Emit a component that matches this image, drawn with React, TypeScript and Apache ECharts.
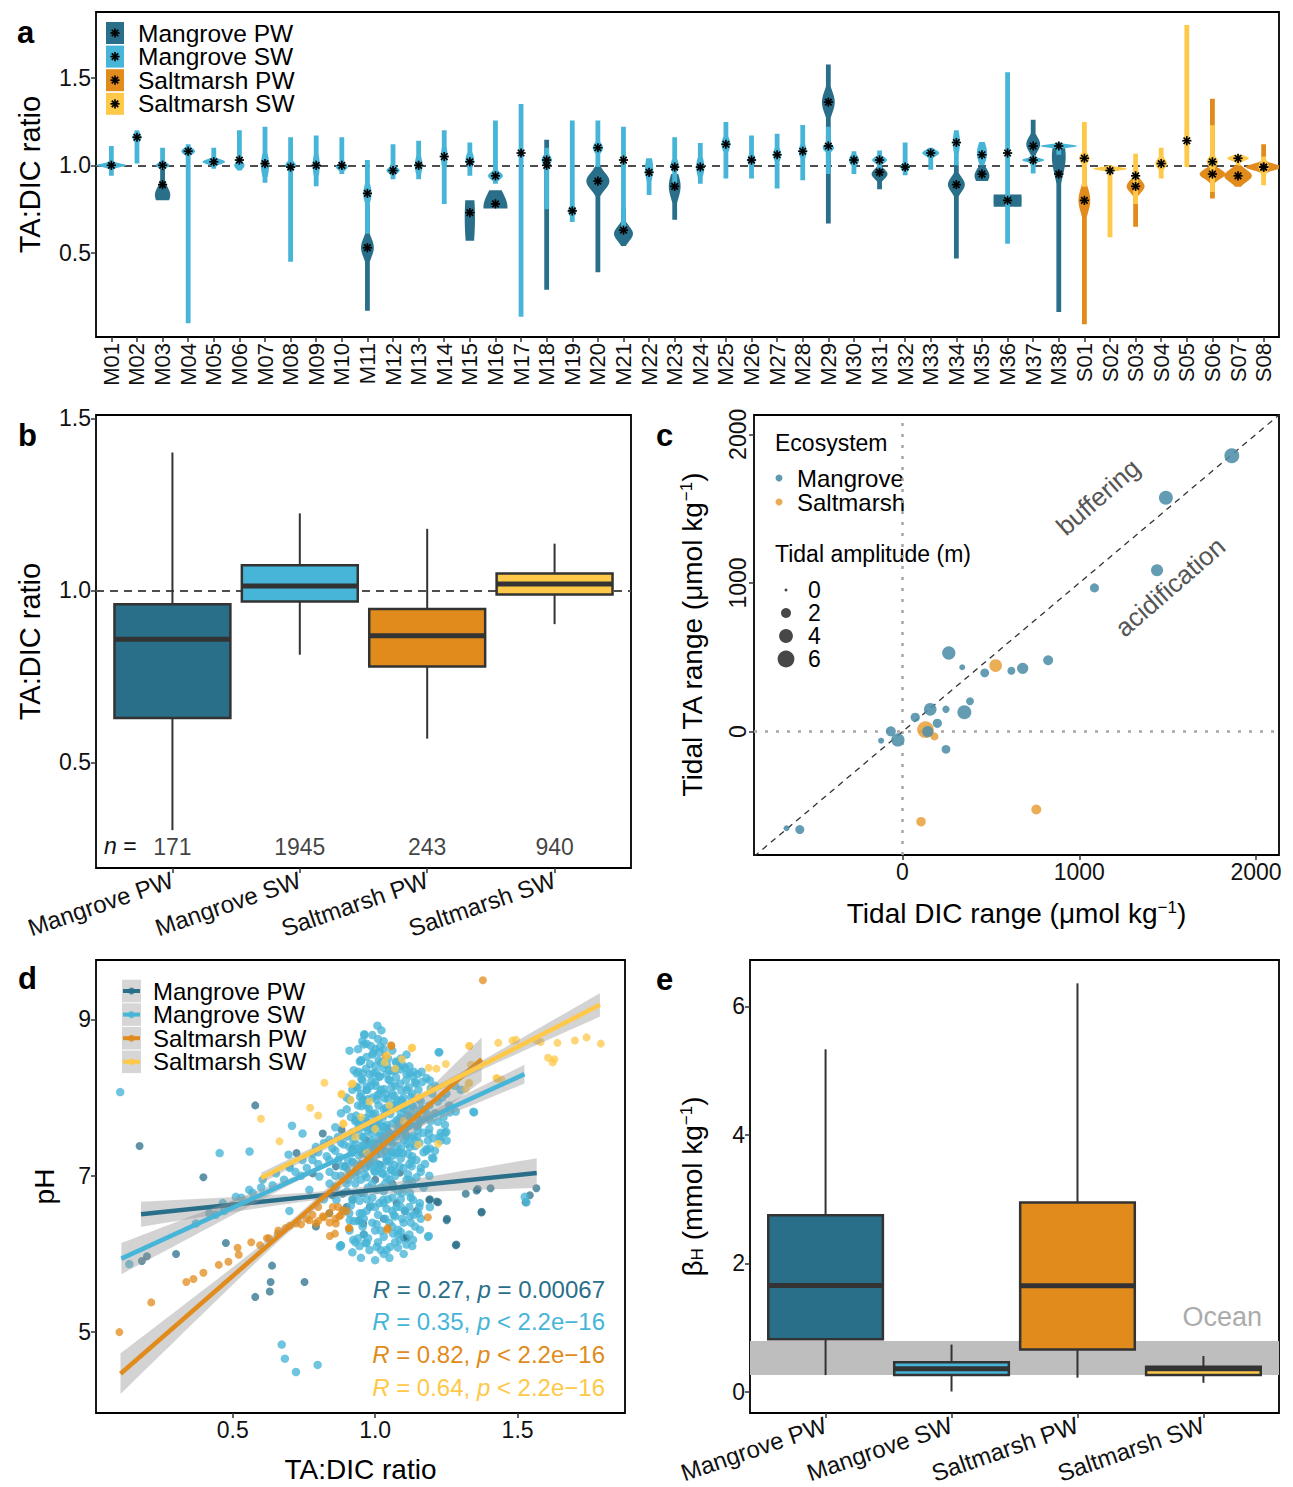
import React, { useEffect, useRef } from "react";
import * as echarts from "echarts";

const FONT = "'Liberation Sans', Arial, Helvetica, sans-serif";
const PALETTE = ["#2a6f8a", "#47b5d7", "#e08b1b", "#fec849"];
const GROUPS = ["Mangrove PW", "Mangrove SW", "Saltmarsh PW", "Saltmarsh SW"];

// ---------- panel a ----------
const siteNames = [
  "M01","M02","M03","M04","M05","M06","M07","M08","M09","M10",
  "M11","M12","M13","M14","M15","M16","M17","M18","M19","M20",
  "M21","M22","M23","M24","M25","M26","M27","M28","M29","M30",
  "M31","M32","M33","M34","M35","M36","M37","M38",
  "S01","S02","S03","S04","S05","S06","S07","S08",
];
const aTicks = [0.5, 1.0, 1.5];
// [site, group, low, high, peak, half-width (site units), spread, median]
const violinPW = [
  [2, 0, 0.80, 0.98, 0.83, 0.30, 0.07, 0.89],
  [10, 0, 0.17, 0.78, 0.53, 0.25, 0.08, 0.53],
  [14, 0, 0.57, 0.80, 0.70, 0.20, 0.30, 0.73],
  [15, 0, 0.753, 0.857, 0.76, 0.47, 0.12, 0.78],
  [17, 0, 0.29, 1.146, 1.10, 0.08, 0.30, 1.00],
  [19, 0, 0.39, 1.00, 0.91, 0.45, 0.07, 0.91],
  [20, 0, 0.54, 0.76, 0.61, 0.37, 0.06, 0.63],
  [22, 0, 0.69, 0.95, 0.88, 0.23, 0.10, 0.88],
  [28, 0, 0.668, 1.575, 1.36, 0.25, 0.09, 1.36],
  [30, 0, 0.863, 1.01, 0.95, 0.31, 0.04, 0.96],
  [33, 0, 0.468, 1.00, 0.89, 0.33, 0.06, 0.89],
  [34, 0, 0.91, 1.00, 0.94, 0.29, 0.06, 0.95],
  [35, 0, 0.763, 0.833, 0.80, 0.55, 0.30, 0.80],
  [36, 0, 0.996, 1.26, 1.12, 0.27, 0.06, 1.11],
  [37, 0, 0.164, 1.10, 1.05, 0.27, 0.15, 0.95],
  [38, 2, 0.094, 0.99, 0.80, 0.23, 0.10, 0.80],
  [40, 2, 0.65, 0.95, 0.88, 0.35, 0.05, 0.88],
  [43, 2, 0.81, 1.38, 0.95, 0.50, 0.04, 0.95],
  [44, 2, 0.877, 1.00, 0.94, 0.54, 0.05, 0.94],
  [45, 2, 0.943, 1.12, 0.99, 0.70, 0.025, 0.99],
];
const violinSW = [
  [0, 1, 0.94, 1.11, 1.00, 0.58, 0.015, 1.00],
  [1, 1, 1.01, 1.20, 1.16, 0.17, 0.04, 1.16],
  [2, 1, 0.98, 1.10, 1.00, 0.27, 0.02, 1.00],
  [3, 1, 0.10, 1.12, 1.08, 0.27, 0.025, 1.08],
  [4, 1, 0.98, 1.10, 1.02, 0.44, 0.02, 1.02],
  [5, 1, 0.97, 1.20, 1.00, 0.20, 0.03, 1.03],
  [6, 1, 0.90, 1.22, 1.00, 0.16, 0.10, 1.01],
  [7, 1, 0.45, 1.16, 1.00, 0.21, 0.03, 0.99],
  [8, 1, 0.88, 1.17, 1.00, 0.14, 0.10, 1.00],
  [9, 1, 0.95, 1.16, 0.99, 0.23, 0.025, 1.00],
  [10, 1, 0.61, 1.03, 0.84, 0.16, 0.08, 0.84],
  [11, 1, 0.92, 1.12, 0.97, 0.26, 0.025, 0.97],
  [12, 1, 0.92, 1.14, 1.00, 0.15, 0.08, 1.00],
  [13, 1, 0.78, 1.20, 1.05, 0.13, 0.10, 1.05],
  [14, 1, 0.94, 1.13, 1.03, 0.17, 0.06, 1.02],
  [15, 1, 0.895, 1.256, 0.94, 0.29, 0.03, 0.94],
  [16, 1, 0.136, 1.35, 1.07, 0.08, 0.20, 1.07],
  [17, 1, 0.75, 1.10, 1.03, 0.20, 0.04, 1.03],
  [18, 1, 0.677, 1.256, 0.74, 0.16, 0.04, 0.74],
  [19, 1, 0.99, 1.256, 1.10, 0.20, 0.04, 1.10],
  [20, 1, 0.63, 1.22, 1.03, 0.10, 0.10, 1.03],
  [21, 1, 0.83, 1.04, 0.98, 0.16, 0.10, 0.96],
  [22, 1, 0.886, 1.16, 1.00, 0.16, 0.05, 0.99],
  [23, 1, 0.895, 1.127, 0.99, 0.16, 0.08, 0.99],
  [24, 1, 0.924, 1.247, 1.12, 0.17, 0.06, 1.12],
  [25, 1, 0.924, 1.17, 1.03, 0.15, 0.05, 1.03],
  [26, 1, 0.867, 1.18, 1.06, 0.15, 0.06, 1.06],
  [27, 1, 0.915, 1.23, 1.08, 0.15, 0.06, 1.08],
  [28, 1, 0.95, 1.22, 1.10, 0.22, 0.03, 1.11],
  [29, 1, 0.95, 1.08, 1.03, 0.20, 0.04, 1.03],
  [30, 1, 0.98, 1.085, 1.03, 0.29, 0.025, 1.03],
  [31, 1, 0.943, 1.13, 0.99, 0.18, 0.03, 0.99],
  [32, 1, 0.975, 1.10, 1.07, 0.33, 0.025, 1.07],
  [33, 1, 1.00, 1.20, 1.13, 0.14, 0.10, 1.13],
  [34, 1, 1.00, 1.133, 1.07, 0.20, 0.08, 1.06],
  [35, 1, 0.553, 1.53, 1.07, 0.08, 0.30, 1.07],
  [36, 1, 0.953, 1.057, 1.03, 0.43, 0.015, 1.03],
  [37, 1, 1.06, 1.13, 1.11, 0.72, 0.012, 1.11],
  [38, 3, 0.877, 1.247, 1.04, 0.20, 0.04, 1.04],
  [39, 3, 0.59, 1.00, 0.98, 0.66, 0.012, 0.97],
  [40, 3, 0.78, 1.066, 0.94, 0.12, 0.10, 0.94],
  [41, 3, 0.924, 1.10, 1.01, 0.23, 0.04, 1.01],
  [42, 3, 0.99, 1.80, 1.14, 0.10, 0.30, 1.14],
  [43, 3, 0.848, 1.228, 1.02, 0.22, 0.04, 1.02],
  [44, 3, 1.00, 1.06, 1.04, 0.42, 0.02, 1.04],
  [45, 3, 0.886, 1.05, 0.99, 0.20, 0.05, 0.99],
];

// ---------- panel b ----------
const bTicks = [0.5, 1.0, 1.5];
// [group, min, q1, median, q3, max]
const bBoxes = [
  [0, 0.303, 0.629, 0.858, 0.960, 1.401],
  [1, 0.813, 0.968, 1.013, 1.073, 1.224],
  [2, 0.569, 0.779, 0.868, 0.946, 1.179],
  [3, 0.902, 0.988, 1.019, 1.049, 1.136],
];
const nCounts = [171, 1945, 243, 940];

// ---------- panel c ----------
const cTicks = [0, 1000, 2000];
// [DIC range, TA range, tidal amplitude]
const cMangrove = [
  [1863, 1856, 4.7], [1490, 1573, 4.1], [1440, 1086, 3.0], [1086, 967, 1.6],
  [262, 529, 3.7], [338, 433, 0.6], [465, 395, 1.5], [616, 410, 1.2],
  [680, 426, 2.6], [824, 480, 2.0], [382, 204, 1.2], [246, 150, 1.0],
  [157, 150, 3.35], [350, 130, 4.1], [72, 96, 1.7], [197, 56, 1.7],
  [-66, 2, 2.0], [-26, -56, 3.7], [-121, -61, 0.6], [143, 0, 2.6],
  [246, -119, 1.5], [-656, -650, 0.6], [-581, -659, 1.6],
];
const cSaltmarsh = [
  [527, 444, 3.35], [130, 13, 5.9], [181, -32, 1.2], [105, -606, 1.8], [757, -524, 2.0],
];
const ampLegend = [0, 2, 4, 6];
const oneToOne = [-840, 2130];

// ---------- panel d ----------
const dXTicks = [0.5, 1.0, 1.5];
const dYTicks = [5, 7, 9];
const dMangrovePW = [
  [0.173,7.38],[0.579,7.90],[0.397,6.98],[0.476,6.14],[0.301,6.00],[0.181,5.91],[0.199,5.97],
  [0.638,5.85],[0.633,5.64],[0.630,5.52],[0.579,5.45],[0.752,5.64],[0.724,7.29],[0.781,7.03],
  [0.862,7.12],[0.886,6.77],[0.921,6.69],[0.839,6.52],[0.792,6.35],[0.944,6.43],[0.816,7.54],
  [1.318,6.77],[1.356,6.81],[1.405,6.84],[1.373,6.53],[1.251,6.43],[1.283,6.11],[1.566,6.84],
  [1.543,6.75],[1.528,6.66],[1.192,6.70],[1.221,6.66],[1.104,6.55],[1.145,6.55],[1.017,7.14],
  [0.993,7.62],[1.040,7.61],[0.882,7.59],[0.894,7.12],[0.952,7.29],[0.952,6.78],[1.087,7.04],
  [0.981,6.60],[1.075,6.65],[1.110,6.20],[0.958,6.39],[1.10,6.21],[1.19,6.69],[1.216,6.67],
  [1.36,6.83],[1.252,6.45],[1.374,6.54],[1.285,6.12],[0.92,7.35],[0.97,7.45],[1.0,6.95],
  [1.06,6.9],[0.9,6.6],[0.85,6.75],[1.03,6.45],[0.96,6.25],
];
const dMangroveSW = [
  [0.105,8.07],[0.454,7.29],[0.559,7.31],[0.708,7.64],[0.696,7.27],[0.137,5.87],[0.672,4.84],
  [0.683,4.66],[0.722,4.49],[0.798,4.58],[0.879,6.11],[0.699,6.55],[0.966,6.14],
  [1.008,8.92],[1.022,8.86],[0.962,8.81],[0.970,8.69],[1.017,8.65],[0.946,8.46],[0.935,8.31],
  [0.993,8.57],[0.993,8.31],[1.225,8.58],[1.163,8.33],[1.143,8.18],[1.192,8.22],[1.347,7.81],
  [1.262,7.81],[1.283,7.82],[1.245,7.65],[1.245,7.55],[1.227,7.50],[1.204,7.48],[1.251,7.45],
  [1.192,7.35],[1.180,7.32],[1.204,7.22],[1.148,7.50],[1.122,7.37],[1.128,7.20],[1.128,7.12],
  [1.110,6.95],[1.122,6.78],[1.133,6.69],[1.157,6.65],[1.192,6.60],[1.151,6.52],[1.122,6.48],
  [1.157,6.31],[1.081,6.31],[1.087,6.18],[1.133,6.18],[1.052,6.09],[1.005,6.09],[0.970,6.14],
  [0.876,6.09],[1.525,6.73],[1.186,6.22],[1.063,6.26],[0.923,6.18],[0.911,6.43],[0.946,6.52],
  [1.063,6.86],[1.028,6.69],[0.923,7.46],[0.911,7.97],[0.958,7.97],[0.970,8.14],[1.017,8.27],
  [1.052,8.22],[1.087,8.18],[1.110,8.10],[1.075,7.97],[1.110,7.84],[1.075,7.71],[1.040,7.84],
  [1.005,7.97],[0.981,7.80],[0.946,7.71],[1.017,7.54],[1.052,7.46],[1.087,7.54],[0.993,7.33],
  [1.040,7.24],[1.075,7.29],[0.981,7.12],[1.028,7.03],[0.911,7.03],[0.876,7.24],[0.864,6.69],
  [0.839,7.46],[0.792,7.37],[0.745,7.20],[0.699,7.12],[0.652,7.03],[0.605,6.95],[0.558,6.82],
  [0.511,6.73],[0.465,6.65],[0.418,6.52],[0.371,6.39],[0.839,7.20],[0.886,7.12],[0.909,7.37],
  [0.862,6.86],[0.933,6.77],[0.909,6.52],[0.956,6.35],[0.804,6.99],[0.769,6.82],[0.933,7.71],
  [0.956,7.97],[0.956,8.31],[0.950,8.48],[0.962,8.80],[0.933,8.14],[0.745,7.54],
  [0.95,5.95],[1.0,5.92],[1.05,5.95],[1.1,6.0],[0.98,6.05],[1.08,6.08],[1.13,6.1],[0.92,6.02],
  [1.03,6.0],[1.345,7.82],[1.188,7.54],[1.23,7.45],[1.25,7.56],[1.22,7.69],[1.18,7.34],
  [1.20,7.23],[1.188,6.23],[0.880,6.11],[1.223,8.58],[1.531,6.66],
  [0.91,8.6],[0.94,8.62],[0.97,8.52],[1.0,8.4],[1.04,8.3],[1.07,8.35],[1.12,8.4],[1.15,8.3],
  [1.18,8.25],[1.21,8.15],[0.92,8.1],[0.95,8.05],[0.99,8.0],[1.02,8.1],[1.06,8.05],[1.09,7.95],
  [1.13,7.9],[1.17,7.85],[1.21,7.8],[1.24,7.75],[0.9,7.85],[0.94,7.9],[0.97,7.7],[1.01,7.72],
  [1.04,7.65],[1.08,7.7],[1.11,7.62],[1.15,7.58],[1.19,7.6],[1.23,7.55],[0.89,7.4],[0.92,7.55],
  [0.96,7.5],[0.99,7.45],[1.03,7.5],[1.06,7.42],[1.1,7.45],[1.14,7.38],[1.17,7.3],[1.21,7.32],
  [0.88,7.0],[0.92,7.18],[0.95,7.15],[0.98,7.25],[1.02,7.28],[1.05,7.18],[1.09,7.22],[1.12,7.15],
  [1.16,7.05],[1.19,7.0],[0.9,6.8],[0.93,6.9],[0.97,6.98],[1.0,7.05],[1.04,6.98],[1.07,7.0],
  [1.1,6.85],[1.13,6.92],[1.17,6.85],[0.89,6.55],[0.92,6.7],[0.96,6.78],[0.99,6.72],[1.03,6.8],
  [1.06,6.72],[1.09,6.7],[1.12,6.6],[1.16,6.45],[0.91,6.3],[0.94,6.42],[0.97,6.55],[1.01,6.5],
  [1.04,6.58],[1.07,6.48],[1.1,6.4],[1.14,6.35],[0.93,6.15],[0.96,6.25],[1.0,6.3],[1.03,6.22],
  [1.06,6.35],[1.09,6.28],[1.12,6.25],[0.99,8.8],[1.03,8.72],[1.06,8.6],[0.96,8.68],[1.0,8.62],
  [1.09,8.5],[1.11,8.55],[0.97,7.9],[1.0,7.8],[1.03,7.85],[1.06,7.9],[1.09,7.8],[1.12,7.75],
  [0.99,7.6],[1.02,7.65],[1.05,7.55],[1.08,7.6],[1.11,7.5],[1.14,7.45],[0.96,7.4],[1.0,7.35],
  [1.03,7.4],[1.06,7.3],[1.09,7.35],[0.98,7.15],[1.01,7.1],[1.04,7.2],[1.07,7.05],[1.1,7.1],
  [0.95,6.95],[0.99,6.9],[1.02,6.85],[1.05,6.95],[1.08,6.8],[0.97,6.7],[1.0,6.6],[1.03,6.65],
  [1.06,6.55],[1.09,6.6],[0.96,6.45],[0.99,6.4],[1.02,6.3],[1.05,6.4],[1.08,6.25],[0.94,6.2],
  [1.01,6.15],[1.04,6.05],[0.97,8.1],[1.0,8.2],[1.04,8.05],[1.07,8.15],[1.1,8.0],[1.13,8.05],
  [1.16,7.95],[1.19,7.9],[1.2,8.05],[0.93,7.7],[0.9,7.5],[0.92,7.3],[0.9,6.9],[0.93,7.0],
  [1.15,7.65],[1.17,7.55],[1.13,7.25],[1.16,7.1],[1.12,6.95],[1.18,7.8],[1.22,7.95],[1.25,8.05],
  [1.28,8.15],[1.3,8.1],[1.26,7.9],[1.05,8.35],[1.02,8.45],[0.99,8.55],[1.03,8.62],[1.01,8.75],
  [0.98,8.3],[1.08,8.4],[1.11,8.3],[1.14,8.2],
  [0.955,8.72],[0.985,8.66],[1.015,8.58],[1.045,8.5],[1.075,8.45],[1.105,8.38],[1.135,8.33],
  [1.165,8.2],[1.195,8.12],[1.235,8.0],[0.925,8.35],[0.955,8.22],[0.985,8.15],[1.015,8.05],
  [1.045,7.98],[1.075,7.88],[1.105,7.9],[1.135,7.8],[1.165,7.72],[1.195,7.7],[0.915,7.75],
  [0.945,7.6],[0.975,7.58],[1.005,7.62],[1.035,7.58],[1.065,7.52],[1.095,7.58],[1.125,7.48],
  [1.155,7.42],[1.185,7.45],[0.905,7.2],[0.935,7.35],[0.965,7.28],[0.995,7.38],[1.025,7.35],
  [1.055,7.32],[1.085,7.3],[1.115,7.28],[1.145,7.2],[1.175,7.15],[0.905,6.95],[0.935,7.08],
  [0.965,7.1],[0.995,7.18],[1.025,7.12],[1.055,7.08],[1.085,7.12],[1.115,7.02],[1.145,6.98],
  [0.915,6.62],[0.945,6.68],[0.975,6.85],[1.005,6.82],[1.035,6.9],[1.065,6.85],[1.095,6.78],
  [1.125,6.72],[1.155,6.6],[0.925,6.42],[0.955,6.52],[0.985,6.62],[1.015,6.65],[1.045,6.7],
  [1.075,6.6],[1.105,6.55],[1.135,6.5],[0.945,6.1],[0.975,6.2],[1.005,6.38],[1.035,6.45],
  [1.065,6.5],[1.095,6.45],[1.125,6.4],[1.11,6.12],[1.07,6.15],[1.02,6.05],[0.8,7.3],
  [0.82,7.42],[0.85,7.35],[0.87,7.5],[0.78,7.2],[0.76,7.1],[0.72,7.05],[0.68,6.95],[0.64,6.88],
  [0.6,6.85],[0.57,6.78],[0.53,6.72],[0.5,6.62],[0.47,6.55],[0.44,6.5],[0.86,7.62],[0.88,7.8],
  [0.9,8.0],[0.86,7.0],[0.84,6.9],[0.82,6.7],
];
// the densest part of the Mangrove SW cloud
const dMangroveSWCore = [
  [0.951,8.47],[0.982,8.43],[1.012,8.48],[1.041,8.42],[1.072,8.46],[1.098,8.41],
  [0.941,8.33],[0.968,8.37],[1.003,8.32],[1.028,8.38],[1.061,8.34],[1.088,8.36],[1.121,8.31],
  [0.952,8.24],[0.987,8.21],[1.013,8.27],[1.047,8.23],[1.073,8.26],[1.108,8.22],[1.132,8.27],
  [0.938,8.13],[0.972,8.1],[1.002,8.15],[1.031,8.11],[1.058,8.14],[1.092,8.09],[1.118,8.13],[1.152,8.1],
  [0.947,8.01],[0.973,7.98],[1.008,8.03],[1.033,7.99],[1.067,8.02],[1.093,7.97],[1.127,8.01],[1.153,7.98],
  [0.952,7.89],[0.978,7.86],[1.012,7.9],[1.038,7.87],[1.072,7.91],[1.098,7.86],[1.132,7.89],[1.158,7.85],
  [0.933,7.77],[0.967,7.74],[0.993,7.78],[1.027,7.75],[1.053,7.79],[1.087,7.74],[1.113,7.77],[1.147,7.75],
  [0.942,7.65],[0.968,7.62],[1.002,7.66],[1.028,7.63],[1.062,7.67],[1.088,7.62],[1.122,7.65],[1.148,7.63],
  [0.927,7.53],[0.953,7.5],[0.987,7.54],[1.013,7.51],[1.047,7.55],[1.073,7.5],[1.107,7.53],[1.133,7.51],
  [0.932,7.41],[0.958,7.38],[0.992,7.42],[1.018,7.39],[1.052,7.43],[1.078,7.38],[1.112,7.41],
  [0.917,7.29],[0.943,7.26],[0.977,7.3],[1.003,7.27],[1.037,7.31],[1.063,7.26],[1.097,7.29],
  [0.922,7.17],[0.948,7.14],[0.982,7.18],[1.008,7.15],[1.042,7.19],[1.068,7.14],
  [0.937,7.05],[0.963,7.02],[0.997,7.06],[1.023,7.03],[1.057,7.07],
  [0.86,7.32],[0.88,7.42],[0.83,7.25],[0.8,7.15],[0.9,7.1],[0.87,7.2],[0.84,7.05],[0.78,7.28],
  [0.74,7.0],[0.7,7.1],
];
const dSaltmarshPW = [
  [0.102,5.00],[0.214,5.38],[0.337,5.64],[0.362,5.68],[0.397,5.76],[0.451,5.86],[0.485,5.90],
  [0.517,6.08],[0.521,5.99],[0.565,6.15],[0.596,6.11],[0.627,6.20],[0.658,6.26],[0.685,6.33],
  [0.722,6.39],[0.769,6.43],[0.816,6.48],[0.839,6.52],[0.862,6.39],[0.841,6.23],[0.909,6.33],
  [0.792,6.39],[0.851,6.60],[0.886,6.56],[1.378,9.50],[1.056,8.67],[1.037,8.53],[1.185,6.47],
  [1.044,6.33],[0.908,6.33],[1.057,8.66],[1.042,6.31],[0.874,6.48],[0.859,6.26],[0.76,6.45],
  [0.78,6.5],[0.8,6.42],[0.82,6.47],[0.84,6.4],[0.86,6.45],[0.88,6.5],[0.74,6.38],[0.7,6.36],
  [0.66,6.3],[0.62,6.2],[0.9,6.55],[0.87,6.6],[0.8,6.6],
];
const dSaltmarshSW = [
  [0.822,8.19],[0.772,7.87],[0.599,7.73],[0.664,7.44],[0.800,7.77],[0.882,8.05],[0.914,7.97],
  [0.921,8.18],[0.888,7.67],[1.330,8.66],[1.432,8.70],[1.482,8.73],[1.494,8.74],[1.567,8.73],
  [1.581,8.71],[1.640,8.70],[1.701,8.73],[1.742,8.77],[1.792,8.69],[1.607,8.51],[1.623,8.45],
  [1.629,8.49],[1.426,8.25],[1.444,8.23],[1.336,8.42],[1.330,8.19],[1.318,8.11],[1.128,8.63],
  [1.094,8.49],[1.070,8.37],[1.188,8.38],[1.215,8.37],[1.248,8.43],[0.882,8.04],[0.917,8.17],
  [0.888,7.66],[1.151,7.40],[1.221,7.41],[1.034,8.45],[1.042,8.54],[1.13,8.64],[1.331,8.66],
  [1.428,8.24],[1.328,8.18],[1.0,7.6],[0.95,7.75],[1.05,7.9],[1.1,7.7],[0.98,7.95],[1.15,8.0],
  [1.2,8.1],[0.97,7.3],[0.93,7.5],
];
// fitted lines: start/end x and y, confidence half-widths (left, middle, right)
const dFitX0 = [0.178, 0.109, 0.106, 0.600];
const dFitY0 = [6.508, 5.94, 4.468, 6.97];
const dFitX1 = [1.567, 1.524, 1.374, 1.789];
const dFitY1 = [7.035, 8.30, 8.49, 9.186];
const dBandL = [0.16, 0.2, 0.26, 0.07];
const dBandM = [0.05, 0.03, 0.06, 0.04];
const dBandR = [0.19, 0.12, 0.28, 0.15];
const dRValues = ["0.27", "0.35", "0.82", "0.64"];
const dPValues = ["= 0.00067", "< 2.2e\u221216", "< 2.2e\u221216", "< 2.2e\u221216"];

// ---------- panel e ----------
const eTicks = [0, 2, 4, 6];
const eBoxes = [
  [0, 0.26, 0.816, 1.654, 2.746, 5.33],
  [1, 0.005, 0.26, 0.357, 0.46, 0.735],
  [2, 0.22, 0.66, 1.649, 2.946, 6.357],
  [3, 0.14, 0.26, 0.36, 0.39, 0.557],
];
const oceanBand = [0.26, 0.79];

// ---------- helpers ----------
const ampSize = (a) => Math.sqrt(9 + 45.5 * a);

function starLines(cx, cy, r, w) {
  const out = [];
  for (let k = 0; k < 4; k++) {
    const a = (k * Math.PI) / 4;
    const dx = r * Math.cos(a), dy = r * Math.sin(a);
    out.push({ type: "line", shape: { x1: cx - dx, y1: cy - dy, x2: cx + dx, y2: cy + dy }, style: { stroke: "#000", lineWidth: w } });
  }
  return out;
}

const renderViolin = (params, api) => {
  const site = api.value(0), g = api.value(1), lo = api.value(2), hi = api.value(3);
  const peak = api.value(4), hw = api.value(5), sp = api.value(6);
  const unit = api.size([1, 0])[0];
  const left = [], right = [];
  const N = 140;
  for (let i = 0; i <= N; i++) {
    const v = lo + ((hi - lo) * i) / N;
    const p = api.coord([site, v]);
    const h = Math.max(2.4, hw * unit * Math.exp(-Math.pow((v - peak) / sp, 2)));
    left.push([p[0] - h, p[1]]);
    right.push([p[0] + h, p[1]]);
  }
  return { type: "polygon", shape: { points: left.concat(right.reverse()) }, style: { fill: PALETTE[g] } };
};

const renderStar = (params, api) => {
  const p = api.coord([api.value(0), api.value(7)]);
  return { type: "group", children: starLines(p[0], p[1], 4.6, 1.7) };
};

const renderBox = (params, api) => {
  const x = api.value(0);
  const unit = api.size([1, 0])[0];
  const hw = unit * 0.455;
  const pMin = api.coord([x, api.value(1)]);
  const yQ1 = api.coord([x, api.value(2)])[1];
  const yMed = api.coord([x, api.value(3)])[1];
  const yQ3 = api.coord([x, api.value(4)])[1];
  const yMax = api.coord([x, api.value(5)])[1];
  const cx = pMin[0];
  const st = { stroke: "#333", lineWidth: 2 };
  return {
    type: "group",
    children: [
      { type: "line", shape: { x1: cx, y1: yMax, x2: cx, y2: yQ3 }, style: st },
      { type: "line", shape: { x1: cx, y1: yQ1, x2: cx, y2: pMin[1] }, style: st },
      { type: "rect", shape: { x: cx - hw, y: yQ3, width: 2 * hw, height: yQ1 - yQ3 }, style: { fill: PALETTE[x], stroke: "#333", lineWidth: 2.5 } },
      { type: "line", shape: { x1: cx - hw, y1: yMed, x2: cx + hw, y2: yMed }, style: { stroke: "#333", lineWidth: 5 } },
    ],
  };
};

const renderFit = (params, api) => {
  const x0 = api.value(0), y0 = api.value(1), x1 = api.value(2), y1 = api.value(3);
  const L = api.value(4), M = api.value(5), R = api.value(6), g = api.value(7);
  const up = [], dn = [];
  const N = 40;
  for (let i = 0; i <= N; i++) {
    const t = i / N;
    const x = x0 + (x1 - x0) * t, y = y0 + (y1 - y0) * t;
    const E = t < 0.5 ? L : R;
    const se = Math.sqrt(M * M + (E * E - M * M) * (2 * t - 1) * (2 * t - 1));
    up.push(api.coord([x, y + se]));
    dn.push(api.coord([x, y - se]));
  }
  const a = api.coord([x0, y0]), b = api.coord([x1, y1]);
  return {
    type: "group",
    children: [
      { type: "polygon", shape: { points: up.concat(dn.reverse()) }, style: { fill: "rgba(150,150,150,0.42)" } },
      { type: "line", shape: { x1: a[0], y1: a[1], x2: b[0], y2: b[1] }, style: { stroke: PALETTE[g], lineWidth: 4.5 } },
    ],
  };
};

// ---------- axes ----------
const gridStyle = { show: true, borderColor: "#000", borderWidth: 1.8, backgroundColor: "#fff", containLabel: false, outerBoundsMode: "none" };
const tickStyle = { show: true, length: 5, lineStyle: { color: "#333", width: 1.5 } };
const labelBase = { color: "#111", fontSize: 23, fontFamily: FONT, margin: 5 };
const nameStyle = (size) => ({
  color: "#000", fontSize: size, fontFamily: FONT,
  rich: {
    sup: { fontSize: 17, verticalAlign: "top", fontFamily: FONT, color: "#000" },
    sub: { fontSize: 17, verticalAlign: "bottom", fontFamily: FONT, color: "#000" },
  },
});

function valAxis(grid, min, max, ticks, fmt, extra) {
  return Object.assign(
    {
      type: "value", gridIndex: grid, min, max,
      axisLine: { show: false, onZero: false }, splitLine: { show: false },
      axisTick: Object.assign({}, tickStyle, { customValues: ticks }),
      axisLabel: Object.assign({}, labelBase, { customValues: ticks, formatter: fmt }),
    },
    extra || {}
  );
}

const siteIdx = siteNames.map((_, i) => i);
const groupIdx = GROUPS.map((_, i) => i);
const oneDec = (v) => Number(v).toFixed(1);
const groupLabel = { customValues: groupIdx, formatter: (v) => GROUPS[Math.round(v)] || "", rotate: 19, fontSize: 24, margin: 11, overflow: "none" };

const option = {
  animation: false,
  backgroundColor: "#fff",
  textStyle: { fontFamily: FONT },
  grid: [
    Object.assign({ left: 96, top: 12, width: 1183, height: 325 }, gridStyle),
    Object.assign({ left: 96, top: 415, width: 535, height: 453 }, gridStyle),
    Object.assign({ left: 754, top: 415, width: 525, height: 440 }, gridStyle),
    Object.assign({ left: 96, top: 960, width: 529, height: 453 }, gridStyle),
    Object.assign({ left: 750, top: 960, width: 529, height: 453 }, gridStyle),
  ],
  xAxis: [
    valAxis(0, -0.6, siteNames.length - 0.4, siteIdx, (v) => siteNames[Math.round(v)] || "", {
      axisLabel: Object.assign({}, labelBase, { customValues: siteIdx, formatter: (v) => siteNames[Math.round(v)] || "", rotate: 90, fontSize: 22, margin: 6 }),
    }),
    valAxis(1, -0.6, 3.6, groupIdx, (v) => GROUPS[Math.round(v)] || "", {
      axisLabel: Object.assign({}, labelBase, groupLabel),
    }),
    valAxis(2, oneToOne[0], oneToOne[1], cTicks, (v) => String(v), {
      name: "Tidal DIC range (\u03bcmol kg{sup|\u22121})", nameLocation: "middle", nameGap: 44, nameTextStyle: nameStyle(28),
    }),
    valAxis(3, 0.02, 1.877, dXTicks, oneDec, {
      name: "TA:DIC ratio", nameLocation: "middle", nameGap: 42, nameTextStyle: nameStyle(28),
    }),
    valAxis(4, -0.6, 3.6, groupIdx, (v) => GROUPS[Math.round(v)] || "", {
      axisLabel: Object.assign({}, labelBase, groupLabel),
    }),
  ],
  yAxis: [
    valAxis(0, 0.021, 1.874, aTicks, oneDec, {
      name: "TA:DIC ratio", nameLocation: "middle", nameRotate: 90, nameGap: 52, nameTextStyle: nameStyle(29),
    }),
    valAxis(1, 0.193, 1.51, bTicks, oneDec, {
      name: "TA:DIC ratio", nameLocation: "middle", nameRotate: 90, nameGap: 52, nameTextStyle: nameStyle(29),
    }),
    valAxis(2, -830, 2130, cTicks, (v) => String(v), {
      axisLabel: Object.assign({}, labelBase, { customValues: cTicks, formatter: (v) => String(v), rotate: 90 }),
      name: "Tidal TA range (\u03bcmol kg{sup|\u22121})", nameLocation: "middle", nameRotate: 90, nameGap: 48, nameTextStyle: nameStyle(28),
    }),
    valAxis(3, 3.965, 9.76, dYTicks, (v) => String(v), {
      name: "pH", nameLocation: "middle", nameRotate: 90, nameGap: 38, nameTextStyle: nameStyle(28),
    }),
    valAxis(4, -0.33, 6.72, eTicks, (v) => String(v), {
      name: "\u03b2{sub|H} (mmol kg{sup|\u22121})", nameLocation: "middle", nameRotate: 90, nameGap: 44, nameTextStyle: nameStyle(28),
    }),
  ],
  series: [
    // panel a
    {
      type: "line", xAxisIndex: 0, yAxisIndex: 0, data: [], silent: true,
      markLine: { z: 1, silent: true, symbol: "none", label: { show: false }, lineStyle: { type: [8, 6], color: "#4d4d4d", width: 2 }, data: [{ yAxis: 1 }] },
    },
    {
      type: "custom", xAxisIndex: 0, yAxisIndex: 0, z: 2, clip: true, silent: true,
      renderItem: renderViolin, encode: { x: 0, y: [2, 3] }, data: violinPW.concat(violinSW),
    },
    {
      type: "custom", xAxisIndex: 0, yAxisIndex: 0, z: 3, clip: true, silent: true,
      renderItem: renderStar, encode: { x: 0, y: 7 }, data: violinPW.concat(violinSW),
    },
    // panel b
    {
      type: "line", xAxisIndex: 1, yAxisIndex: 1, data: [], silent: true,
      markLine: { z: 1, silent: true, symbol: "none", label: { show: false }, lineStyle: { type: [8, 6], color: "#4d4d4d", width: 2 }, data: [{ yAxis: 1 }] },
    },
    {
      type: "custom", xAxisIndex: 1, yAxisIndex: 1, z: 2, silent: true,
      renderItem: renderBox, encode: { x: 0, y: [1, 5] }, data: bBoxes,
    },
    {
      type: "scatter", xAxisIndex: 1, yAxisIndex: 1, z: 3, silent: true, symbolSize: 0,
      data: nCounts.map((n, i) => [i, 0.254, n]),
      label: { show: true, position: "inside", formatter: (p) => String(p.value[2]), color: "#111", fontSize: 23, fontFamily: FONT },
    },
    // panel c
    {
      type: "line", xAxisIndex: 2, yAxisIndex: 2, data: [], silent: true,
      markLine: { z: 1, silent: true, symbol: "none", label: { show: false }, lineStyle: { type: [3, 8], color: "#a6a6a6", width: 2.5 }, data: [{ xAxis: 0 }, { yAxis: 0 }] },
    },
    {
      type: "line", xAxisIndex: 2, yAxisIndex: 2, z: 1, silent: true, showSymbol: false,
      data: oneToOne.map((v) => [v, v]), lineStyle: { type: [6, 5], color: "#333", width: 1.3 },
    },
    {
      type: "scatter", xAxisIndex: 2, yAxisIndex: 2, z: 2, silent: true,
      data: cSaltmarsh, symbolSize: (v) => ampSize(v[2]), itemStyle: { color: "#e9a240", opacity: 0.88 },
    },
    {
      type: "scatter", xAxisIndex: 2, yAxisIndex: 2, z: 2, silent: true,
      data: cMangrove, symbolSize: (v) => ampSize(v[2]), itemStyle: { color: "#4f8fa8", opacity: 0.88 },
    },
    // panel d
    { type: "scatter", xAxisIndex: 3, yAxisIndex: 3, z: 2, silent: true, symbolSize: 8, data: dMangrovePW, itemStyle: { color: PALETTE[0], opacity: 0.75 } },
    { type: "scatter", xAxisIndex: 3, yAxisIndex: 3, z: 2, silent: true, symbolSize: 8.5, data: dMangroveSW.concat(dMangroveSWCore), itemStyle: { color: PALETTE[1], opacity: 0.78 } },
    { type: "scatter", xAxisIndex: 3, yAxisIndex: 3, z: 2, silent: true, symbolSize: 8, data: dSaltmarshPW, itemStyle: { color: PALETTE[2], opacity: 0.75 } },
    { type: "scatter", xAxisIndex: 3, yAxisIndex: 3, z: 2, silent: true, symbolSize: 8, data: dSaltmarshSW, itemStyle: { color: PALETTE[3], opacity: 0.75 } },
    {
      type: "custom", xAxisIndex: 3, yAxisIndex: 3, z: 3, clip: true, silent: true,
      renderItem: renderFit, encode: { x: [0, 2], y: [1, 3] },
      data: dFitX0.map((x0, i) => [x0, dFitY0[i], dFitX1[i], dFitY1[i], dBandL[i], dBandM[i], dBandR[i], i]),
    },
    // panel e
    {
      type: "line", xAxisIndex: 4, yAxisIndex: 4, data: [], silent: true,
      markArea: { z: 1, silent: true, itemStyle: { color: "#bebebe" }, data: [[{ yAxis: oceanBand[0] }, { yAxis: oceanBand[1] }]] },
    },
    {
      type: "custom", xAxisIndex: 4, yAxisIndex: 4, z: 2, silent: true,
      renderItem: renderBox, encode: { x: 0, y: [1, 5] }, data: eBoxes,
    },
  ],
  graphic: [],
};

// ---------- decorations (legends, labels) ----------
const gfx = [];
const panelLabels = [["a", 17, 32], ["b", 18, 435], ["c", 656, 435], ["d", 18, 978], ["e", 656, 979]];
panelLabels.forEach(([t, x, y]) => {
  gfx.push({ type: "text", x, y, style: { text: t, font: `bold 31px ${FONT}`, fill: "#000", verticalAlign: "middle" } });
});
// legend a (keys + one multi-line text block)
const ROW = 23.6;
GROUPS.forEach((name, i) => {
  const cy = 33 + i * ROW;
  gfx.push({ type: "rect", shape: { x: 106, y: cy - 11, width: 18, height: 22 }, style: { fill: PALETTE[i] } });
  gfx.push({ type: "group", children: starLines(115, cy, 4.6, 1.7) });
});
gfx.push({ type: "text", x: 138, y: 33 - ROW / 2, style: { text: GROUPS.join("\n"), font: `24.5px ${FONT}`, lineHeight: ROW, fill: "#000", verticalAlign: "top" } });
// panel b "n ="
gfx.push({ type: "text", x: 104, y: 846, style: { text: "{i|n} =", font: `23px ${FONT}`, fill: "#111", verticalAlign: "middle", rich: { i: { fontStyle: "italic", fontSize: 23, fontFamily: FONT, fill: "#111" } } } });
// legend c
gfx.push({ type: "text", x: 775, y: 443, style: { text: "Ecosystem", font: `23px ${FONT}`, fill: "#000", verticalAlign: "middle" } });
gfx.push({ type: "circle", shape: { cx: 779, cy: 478, r: 3.5 }, style: { fill: "#4f8fa8", opacity: 0.9 } });
gfx.push({ type: "circle", shape: { cx: 779, cy: 502, r: 3.5 }, style: { fill: "#e9a240", opacity: 0.9 } });
gfx.push({ type: "text", x: 797, y: 466, style: { text: "Mangrove\nSaltmarsh", font: `24px ${FONT}`, lineHeight: 24, fill: "#000", verticalAlign: "top" } });
gfx.push({ type: "text", x: 775, y: 554, style: { text: "Tidal amplitude (m)", font: `23px ${FONT}`, fill: "#000", verticalAlign: "middle" } });
ampLegend.forEach((a, i) => {
  const y = 590 + i * 23;
  gfx.push({ type: "circle", shape: { cx: 786, cy: y, r: ampSize(a) / 2 }, style: { fill: "#333", opacity: 0.9 } });
});
gfx.push({ type: "text", x: 808, y: 590 - 11.5, style: { text: ampLegend.map(String).join("\n"), font: `23px ${FONT}`, lineHeight: 23, fill: "#000", verticalAlign: "top" } });
gfx.push({ type: "text", x: 1098, y: 497, rotation: (41 * Math.PI) / 180, style: { text: "buffering", font: `26px ${FONT}`, fill: "#555", align: "center", verticalAlign: "middle" } });
gfx.push({ type: "text", x: 1170, y: 587, rotation: (41 * Math.PI) / 180, style: { text: "acidification", font: `26px ${FONT}`, fill: "#555", align: "center", verticalAlign: "middle" } });
// legend d
GROUPS.forEach((name, i) => {
  const cy = 991 + i * ROW;
  gfx.push({ type: "rect", shape: { x: 122, y: cy - 11.3, width: 19, height: 22.6 }, style: { fill: "#d6d6d6" } });
  gfx.push({ type: "line", shape: { x1: 123, y1: cy, x2: 140, y2: cy }, style: { stroke: PALETTE[i], lineWidth: 4 } });
  gfx.push({ type: "circle", shape: { cx: 131.5, cy, r: 3.5 }, style: { fill: PALETTE[i], opacity: 0.8 } });
});
gfx.push({ type: "text", x: 153, y: 991 - ROW / 2, style: { text: GROUPS.join("\n"), font: `24px ${FONT}`, lineHeight: ROW, fill: "#000", verticalAlign: "top" } });
dRValues.forEach((r, i) => {
  const y = 1289 + i * 32.7;
  gfx.push({
    type: "text", x: 605, y,
    style: {
      text: `{i|R} = ${r}, {i|p} ${dPValues[i]}`, font: `24px ${FONT}`, fill: PALETTE[i], align: "right", verticalAlign: "middle",
      rich: { i: { fontStyle: "italic", fontSize: 24, fontFamily: FONT, fill: PALETTE[i] } },
    },
  });
});
// panel e "Ocean"
gfx.push({ type: "text", x: 1262, y: 1317, style: { text: "Ocean", font: `27px ${FONT}`, fill: "#ababab", align: "right", verticalAlign: "middle" } });
option.graphic = gfx;

export default function App() {
  const ref = useRef(null);
  useEffect(() => {
    const chart = echarts.init(ref.current, null, { renderer: "svg" });
    chart.setOption(option);
    return () => chart.dispose();
  }, []);
  return (
    <div
      ref={ref}
      style={{ position: "absolute", left: 0, top: 0, width: 1293, height: 1487, background: "#fff" }}
    />
  );
}
